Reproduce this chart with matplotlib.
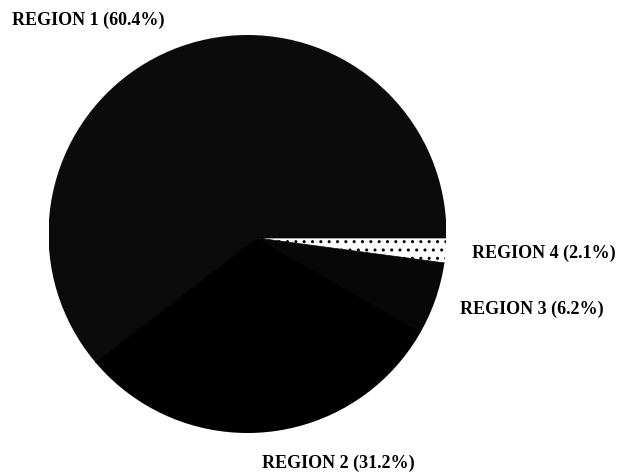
import matplotlib.pyplot as plt
from matplotlib.patches import Circle

regions = ["REGION 1", "REGION 2", "REGION 3", "REGION 4"]
shares = [60.4, 31.2, 6.2, 2.1]

fill_colors = ["#0b0b0b", "#000000", "#070707", "#ffffff"]
hatches = [None, None, None, ".."]

# label spots in pixels (left x, baseline y from top)
label_xy = [(12, 25), (262, 468), (460, 314), (472, 258)]

W, H = 630, 476
fig = plt.figure(figsize=(W / 100, H / 100), dpi=100)

# outline of the pie (pixels); the slices meet a bit right of its centre
cx, cy, r = 247.5, 234, 199
apex = ((257 - cx) / r, -(238 - cy) / r)

ax = fig.add_axes([(cx - r) / W, (H - cy - r) / H, 2 * r / W, 2 * r / H])

wedges, _ = ax.pie(
    shares,
    startangle=0,
    counterclock=True,
    colors=fill_colors,
    center=apex,
    radius=1.15,
    wedgeprops=dict(linewidth=0.5, edgecolor="black"),
)

ax.set_xlim(-1, 1)
ax.set_ylim(-1, 1)
ax.set_aspect("equal")
ax.axis("off")

# cut the slices down to the round outline (pie turns clipping off)
rim = Circle((0, 0), 1.0, facecolor="none", edgecolor="none")
ax.add_patch(rim)
for w, h in zip(wedges, hatches):
    if h:
        w.set_hatch(h)
    w.set_clip_on(True)
    w.set_clip_path(rim)

for name, pct, (x, y) in zip(regions, shares, label_xy):
    fig.text(x / W, 1 - y / H, f"{name} ({pct:.1f}%)",
             fontsize=13, fontweight="bold", family="Liberation Serif",
             ha="left", va="baseline")

plt.savefig("out.png", dpi=100)
